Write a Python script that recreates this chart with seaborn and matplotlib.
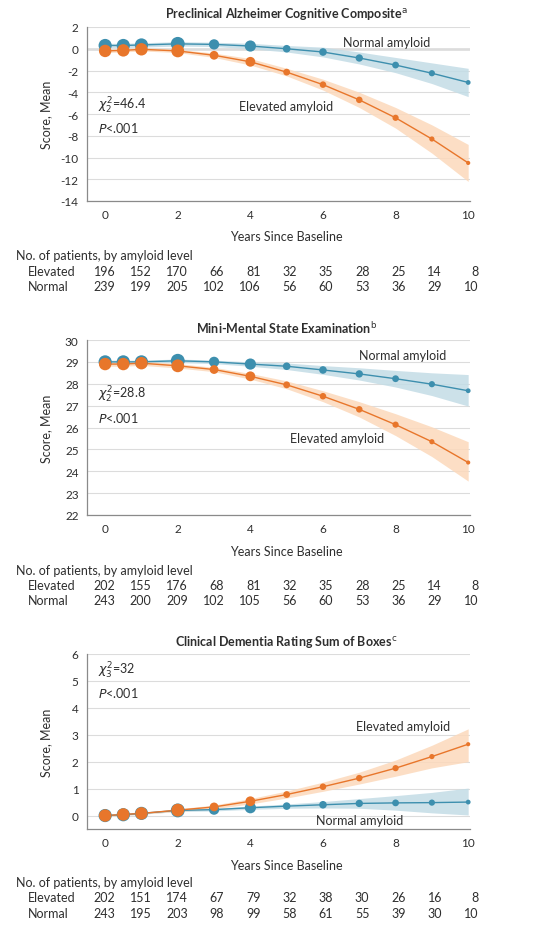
import matplotlib
matplotlib.use("Agg")
import matplotlib.pyplot as plt
import matplotlib.transforms as mtransforms
import pandas as pd
import seaborn as sns

# ---------------------------------------------------------------- data
years = [0, 0.5, 1, 2, 3, 4, 5, 6, 7, 8, 9, 10]
count_years = [0, 1, 2, 3, 4, 5, 6, 7, 8, 9, 10]
xticks = [0, 2, 4, 6, 8, 10]

# Preclinical Alzheimer Cognitive Composite
pacc_normal = [0.3, 0.3, 0.35, 0.45, 0.4, 0.25, 0.0, -0.3, -0.85, -1.5, -2.25, -3.1]
pacc_normal_lo = [0.1, 0.1, 0.15, 0.25, 0.2, 0.0, -0.3, -0.75, -1.4, -2.2, -3.2, -4.4]
pacc_normal_hi = [0.5, 0.5, 0.55, 0.65, 0.6, 0.5, 0.3, 0.15, -0.3, -0.8, -1.3, -1.8]
pacc_elevated = [-0.2, -0.15, -0.05, -0.2, -0.6, -1.2, -2.15, -3.3, -4.7, -6.35, -8.3, -10.5]
pacc_elevated_lo = [-0.35, -0.3, -0.2, -0.35, -0.8, -1.5, -2.5, -3.8, -5.4, -7.3, -9.6, -12.2]
pacc_elevated_hi = [-0.05, 0.0, 0.1, -0.05, -0.4, -0.9, -1.8, -2.8, -4.0, -5.4, -7.0, -8.8]
pacc_n_elevated = [196, 152, 170, 66, 81, 32, 35, 28, 25, 14, 8]
pacc_n_normal = [239, 199, 205, 102, 106, 56, 60, 53, 36, 29, 10]

# Mini-Mental State Examination
mmse_normal = [29.0, 29.0, 29.0, 29.05, 29.0, 28.9, 28.8, 28.63, 28.45, 28.23, 27.98, 27.68]
mmse_normal_lo = [28.92, 28.92, 28.92, 28.97, 28.92, 28.8, 28.65, 28.43, 28.17, 27.85, 27.46, 26.98]
mmse_normal_hi = [29.08, 29.08, 29.08, 29.13, 29.08, 29.0, 28.95, 28.83, 28.73, 28.61, 28.5, 28.42]
mmse_elevated = [28.9, 28.9, 28.94, 28.82, 28.65, 28.34, 27.95, 27.43, 26.83, 26.13, 25.35, 24.4]
mmse_elevated_lo = [28.8, 28.8, 28.84, 28.72, 28.55, 28.21, 27.77, 27.18, 26.48, 25.63, 24.67, 23.55]
mmse_elevated_hi = [29.0, 29.0, 29.04, 28.92, 28.75, 28.47, 28.13, 27.68, 27.18, 26.63, 26.03, 25.35]
mmse_n_elevated = [202, 155, 176, 68, 81, 32, 35, 28, 25, 14, 8]
mmse_n_normal = [243, 200, 209, 102, 105, 56, 60, 53, 36, 29, 10]

# Clinical Dementia Rating Sum of Boxes
cdr_normal = [0.0, 0.03, 0.08, 0.19, 0.22, 0.29, 0.35, 0.4, 0.45, 0.47, 0.48, 0.5]
cdr_normal_lo = [-0.03, 0.0, 0.05, 0.15, 0.17, 0.23, 0.27, 0.28, 0.27, 0.2, 0.1, 0.02]
cdr_normal_hi = [0.03, 0.06, 0.11, 0.23, 0.27, 0.35, 0.43, 0.52, 0.63, 0.74, 0.86, 1.02]
cdr_elevated = [0.0, 0.04, 0.08, 0.2, 0.32, 0.53, 0.78, 1.07, 1.39, 1.76, 2.19, 2.65]
cdr_elevated_lo = [-0.03, 0.01, 0.05, 0.15, 0.25, 0.43, 0.65, 0.9, 1.17, 1.46, 1.77, 2.0]
cdr_elevated_hi = [0.03, 0.07, 0.11, 0.25, 0.39, 0.63, 0.91, 1.24, 1.61, 2.06, 2.61, 3.22]
cdr_n_elevated = [202, 151, 174, 67, 79, 32, 38, 30, 26, 16, 8]
cdr_n_normal = [243, 195, 203, 98, 99, 58, 61, 55, 39, 30, 10]

# ---------------------------------------------------------------- style
BLUE = "#3d8fae"
ORANGE = "#e8762b"
BAND_BLUE = "#c3dce6"
BAND_ORANGE = "#fcd9bb"
TEXT = "#2e2e2e"
GRID = "#dcdcdc"
SPINE = "#8a8a8a"

# marker areas shrink as follow-up thins out
normal_marker_area = [90, 90, 90, 100, 55, 65, 30, 30, 28, 24, 20, 12]
elevated_marker_area = [80, 80, 80, 85, 40, 50, 24, 22, 22, 20, 14, 9]

sns.set_theme(style="white")
plt.rcParams["font.family"] = ["Lato", "DejaVu Sans"]
plt.rcParams["mathtext.fontset"] = "dejavusans"
plt.rcParams["axes.unicode_minus"] = False

W, H = 545, 937
fig = plt.figure(figsize=(W / 100, H / 100), dpi=100)


def rect(left, top, right, bottom):
    return [left / W, 1 - bottom / H, (right - left) / W, (bottom - top) / H]


panels = [
    dict(title="Preclinical Alzheimer Cognitive Composite", mark="a",
         normal=(pacc_normal, pacc_normal_lo, pacc_normal_hi),
         elevated=(pacc_elevated, pacc_elevated_lo, pacc_elevated_hi),
         counts=(pacc_n_elevated, pacc_n_normal),
         box=(87, 28, 470, 202), ylim=(-14, 2), yticks=range(-14, 3, 2),
         chi=r"$\chi^2_2$=46.4", stats_y=(0.55, 0.425), zero_line=True,
         normal_lab=(7.74, 0.6), elevated_lab=(4.98, -5.3),
         rows=(14, 237, 256, 272, 287)),
    dict(title="Mini-Mental State Examination", mark="b",
         normal=(mmse_normal, mmse_normal_lo, mmse_normal_hi),
         elevated=(mmse_elevated, mmse_elevated_lo, mmse_elevated_hi),
         counts=(mmse_n_elevated, mmse_n_normal),
         box=(87, 341, 470, 516), ylim=(22, 30), yticks=range(22, 31),
         chi=r"$\chi^2_2$=28.8", stats_y=(0.69, 0.56), zero_line=False,
         normal_lab=(8.2, 29.33), elevated_lab=(6.4, 25.5),
         rows=(328, 552, 571, 586, 601)),
    dict(title="Clinical Dementia Rating Sum of Boxes", mark="c",
         normal=(cdr_normal, cdr_normal_lo, cdr_normal_hi),
         elevated=(cdr_elevated, cdr_elevated_lo, cdr_elevated_hi),
         counts=(cdr_n_elevated, cdr_n_normal),
         box=(87, 655, 470, 830), ylim=(-0.5, 6), yticks=range(0, 7),
         chi=r"$\chi^2_3$=32", stats_y=(0.91, 0.78), zero_line=False,
         normal_lab=(7.0, -0.15), elevated_lab=(8.2, 3.33),
         rows=(642, 866, 883, 898, 914)),
]

for p in panels:
    ax = fig.add_axes(rect(*p["box"]))
    n_mean, n_lo, n_hi = p["normal"]
    e_mean, e_lo, e_hi = p["elevated"]

    ax.fill_between(years, n_lo, n_hi, color=BAND_BLUE, alpha=0.85, lw=0, zorder=1)
    ax.fill_between(years, e_lo, e_hi, color=BAND_ORANGE, alpha=0.85, lw=0, zorder=1.1)

    df = pd.DataFrame({
        "Years": years * 2,
        "Score": list(n_mean) + list(e_mean),
        "Amyloid": ["Normal"] * len(years) + ["Elevated"] * len(years),
    })
    sns.lineplot(data=df, x="Years", y="Score", hue="Amyloid",
                 hue_order=["Normal", "Elevated"],
                 palette={"Normal": BLUE, "Elevated": ORANGE},
                 lw=1.0, legend=False, ax=ax, zorder=3)
    sns.scatterplot(x=years, y=n_mean, color=BLUE, s=normal_marker_area,
                    linewidth=0, ax=ax, zorder=4, clip_on=False)
    sns.scatterplot(x=years, y=e_mean, color=ORANGE, s=elevated_marker_area,
                    linewidth=0, ax=ax, zorder=5, clip_on=False)

    ax.set_xlim(-0.5, 10.05)
    ax.set_ylim(*p["ylim"])
    ax.set_xticks(xticks)
    ax.set_yticks(list(p["yticks"]))
    ax.set_xlabel("")
    ax.set_ylabel("Score, Mean", fontsize=9, color=TEXT)
    ax.yaxis.set_label_coords(-0.09, 0.5)
    ax.grid(axis="y", color=GRID, lw=0.8)
    ax.set_axisbelow(True)
    if p["zero_line"]:
        ax.axhline(0, color="#6e6e6e", lw=1.0, zorder=0.5)
    for side in ("top", "right"):
        ax.spines[side].set_visible(False)
    for side in ("left", "bottom"):
        ax.spines[side].set_color(SPINE)
        ax.spines[side].set_linewidth(0.9)
    ax.tick_params(axis="both", length=4, width=0.8, color=SPINE,
                   labelsize=8.5, labelcolor=TEXT, pad=2)
    ax.set_facecolor("white")

    # annotations inside the plot
    ax.text(0.03, p["stats_y"][0], p["chi"], transform=ax.transAxes,
            fontsize=9, color=TEXT, va="center", ha="left")
    ax.text(0.03, p["stats_y"][1], r"$P$<.001", transform=ax.transAxes,
            fontsize=9, color=TEXT, va="center", ha="left")
    ax.text(*p["normal_lab"], "Normal amyloid", fontsize=9, color=TEXT,
            ha="center", va="center", zorder=6)
    ax.text(*p["elevated_lab"], "Elevated amyloid", fontsize=9, color=TEXT,
            ha="center", va="center", zorder=6)

    # title, axis caption and patient-count table below each panel
    tr = mtransforms.blended_transform_factory(ax.transData, fig.transFigure)
    y_title, y_xlab, y_head, y_elev, y_norm = [1 - v / H for v in p["rows"]]
    fig.text(5, y_title, p["title"] + r"$^{\mathrm{" + p["mark"] + "}}$",
             transform=tr, ha="center", va="center", fontsize=9,
             fontweight="bold", color=TEXT)
    fig.text(5, y_xlab, "Years Since Baseline", transform=tr, ha="center",
             va="center", fontsize=9, color=TEXT)
    fig.text(16 / W, y_head, "No. of patients, by amyloid level",
             ha="left", va="center", fontsize=9, color=TEXT)
    fig.text(28 / W, y_elev, "Elevated", ha="left", va="center",
             fontsize=9, color=TEXT)
    fig.text(28 / W, y_norm, "Normal", ha="left", va="center",
             fontsize=9, color=TEXT)
    n_elev, n_norm = p["counts"]
    for yr, ne, nn in zip(count_years, n_elev, n_norm):
        fig.text(yr + 0.28, y_elev, str(ne), transform=tr, ha="right",
                 va="center", fontsize=9, color=TEXT)
        fig.text(yr + 0.28, y_norm, str(nn), transform=tr, ha="right",
                 va="center", fontsize=9, color=TEXT)

fig.savefig("out.png", dpi=100, facecolor="white")
